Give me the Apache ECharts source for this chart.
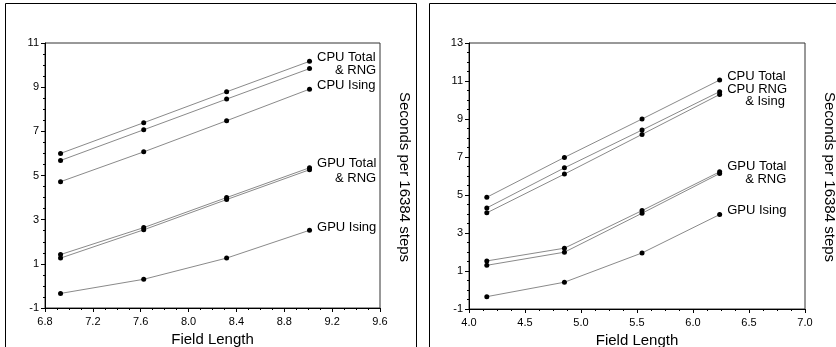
<!DOCTYPE html>
<html>
<head>
<meta charset="utf-8">
<script src="https://cdn.jsdelivr.net/npm/echarts@6/dist/echarts.min.js"></script>
<style>
html,body{margin:0;padding:0;background:#fff;}
#c{width:836px;height:347px;}
</style>
</head>
<body>
<div id="c"></div>
<script>
// ---- data (x = ln(field length), y = values) ----
var xLeft = [6.93, 7.625, 8.318, 9.011];
var leftCpuTotal = [6.00, 7.39, 8.79, 10.17];
var leftCpuRng   = [5.68, 7.07, 8.46, 9.84];
var leftCpuIsing = [4.72, 6.07, 7.48, 8.91];
var leftGpuTotal = [1.42, 2.64, 4.00, 5.35];
var leftGpuRng   = [1.26, 2.54, 3.91, 5.26];
var leftGpuIsing = [-0.34, 0.30, 1.26, 2.52];

var xRight = [4.159, 4.852, 5.545, 6.238];
var rightCpuTotal = [4.88, 6.98, 9.00, 11.05];
var rightCpuRng   = [4.32, 6.43, 8.42, 10.44];
var rightCpuIsing = [4.06, 6.10, 8.19, 10.29];
var rightGpuTotal = [1.53, 2.20, 4.18, 6.22];
var rightGpuRng   = [1.30, 1.99, 4.04, 6.13];
var rightGpuIsing = [-0.35, 0.41, 1.95, 3.97];

var xAxisTitle = 'Field Length';
var yAxisTitle = 'Seconds per 16384 steps';

function pairs(xs, ys){ return xs.map(function(x,i){ return [x, ys[i]]; }); }

var FONT = '"Liberation Sans", Arial, Helvetica, sans-serif';

function mkSeries(idx, xs, ys, labelText, dx, dy){
  var data = pairs(xs, ys);
  var s = {
    type: 'line', xAxisIndex: idx, yAxisIndex: idx,
    data: data, symbol: 'circle', symbolSize: 5,
    itemStyle: { color: '#000' },
    lineStyle: { color: '#8a8a8a', width: 1 },
    silent: true, animation: false, z: 3
  };
  if (labelText) {
    var last = data.length - 1;
    s.data = data.map(function(d, i){
      if (i !== last) return d;
      return { value: d, label: {
        show: true, position: 'right', distance: 5, offset: [dx, dy],
        formatter: labelText, color: '#000', fontSize: 13, fontFamily: FONT
      }};
    });
  }
  return s;
}

function mkX(idx, min, max, interval){
  return {
    type: 'value', gridIndex: idx, min: min, max: max, interval: interval,
    name: xAxisTitle, nameLocation: 'middle', nameGap: 23,
    nameTextStyle: { fontSize: 15, color: '#000', fontFamily: FONT },
    axisLine: { show: true, onZero: false, lineStyle: { color: '#000', width: 1 } },
    axisTick: { show: true, length: 4, lineStyle: { color: '#000' } },
    axisLabel: { color: '#000', fontSize: 11, fontFamily: FONT, margin: 8,
      formatter: function(v){ return v.toFixed(1); } },
    splitLine: { show: false }
  };
}
function mkY(idx, min, max){
  return {
    type: 'value', gridIndex: idx, min: min, max: max, interval: 2,
    axisLine: { show: true, onZero: false, lineStyle: { color: '#000', width: 1 } },
    axisTick: { show: true, length: 4, lineStyle: { color: '#000' } },
    axisLabel: { color: '#000', fontSize: 11, fontFamily: FONT, margin: 6 },
    splitLine: { show: false }
  };
}
// minor-tick-only axes
function mkMinor(idx, min, max, interval){
  return {
    type: 'value', gridIndex: idx, min: min, max: max, interval: interval,
    axisLine: { show: false, onZero: false },
    axisTick: { show: true, length: 2, lineStyle: { color: '#000', width: 1 } },
    axisLabel: { show: false },
    splitLine: { show: false }
  };
}

var chart = echarts.init(document.getElementById('c'), null, { renderer: 'canvas' });
chart.setOption({
  backgroundColor: '#fff',
  animation: false,
  grid: [
    { left: 45, top: 43, width: 335, height: 265, outerBoundsMode: 'none', containLabel: false, show: true, borderColor: '#333', borderWidth: 1, backgroundColor: 'transparent' },
    { left: 469, top: 43, width: 336, height: 266, outerBoundsMode: 'none', containLabel: false, show: true, borderColor: '#333', borderWidth: 1, backgroundColor: 'transparent' }
  ],
  xAxis: [
    mkX(0, 6.8, 9.6, 0.4), mkX(1, 4.0, 7.0, 0.5),
    Object.assign(mkMinor(0, 6.8, 9.6, 0.1), { position: 'bottom' }),
    Object.assign(mkMinor(1, 4.0, 7.0, 0.125), { position: 'bottom' })
  ],
  yAxis: [
    mkY(0, -1, 11), mkY(1, -1, 13),
    Object.assign(mkMinor(0, -1, 11, 0.5), { position: 'left' }),
    Object.assign(mkMinor(1, -1, 13, 0.5), { position: 'left' })
  ],
  series: [
    mkSeries(0, xLeft, leftCpuTotal, 'CPU Total', 0, -4),
    mkSeries(0, xLeft, leftCpuRng, '& RNG', 18, 2),
    mkSeries(0, xLeft, leftCpuIsing, 'CPU Ising', 0, -4),
    mkSeries(0, xLeft, leftGpuTotal, 'GPU Total', 0, -4),
    mkSeries(0, xLeft, leftGpuRng, '& RNG', 18, 9),
    mkSeries(0, xLeft, leftGpuIsing, 'GPU Ising', 0, -3),
    mkSeries(1, xRight, rightCpuTotal, 'CPU Total', 0, -4),
    mkSeries(1, xRight, rightCpuRng, 'CPU RNG', 0, -2),
    mkSeries(1, xRight, rightCpuIsing, '& Ising', 18, 7),
    mkSeries(1, xRight, rightGpuTotal, 'GPU Total', 0, -5),
    mkSeries(1, xRight, rightGpuRng, '& RNG', 18, 6),
    mkSeries(1, xRight, rightGpuIsing, 'GPU Ising', 0, -4)
  ],
  graphic: [
    { type: 'rect', shape: { x: 5.5, y: 3.5, width: 411, height: 360 }, style: { fill: 'none', stroke: '#000', lineWidth: 1 }, silent: true },
    { type: 'rect', shape: { x: 429.5, y: 3.5, width: 430, height: 360 }, style: { fill: 'none', stroke: '#000', lineWidth: 1 }, silent: true },
    { type: 'text', x: 404, y: 177, rotation: -Math.PI / 2,
      style: { text: yAxisTitle, fontSize: 15, fontFamily: FONT, fill: '#000', align: 'center', verticalAlign: 'middle' } },
    { type: 'text', x: 829, y: 177, rotation: -Math.PI / 2,
      style: { text: yAxisTitle, fontSize: 15, fontFamily: FONT, fill: '#000', align: 'center', verticalAlign: 'middle' } }
  ]
});
</script>
</body>
</html>
